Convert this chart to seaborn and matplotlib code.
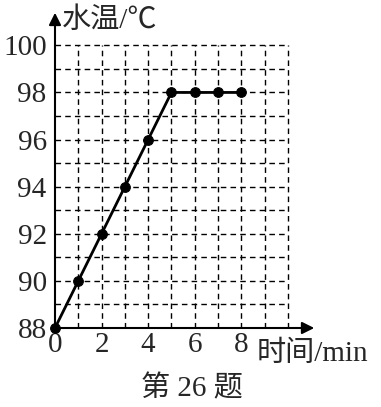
import matplotlib
matplotlib.use('Agg')
import matplotlib.pyplot as plt
import seaborn as sns
import pandas as pd

# data
time_min = [0, 1, 2, 3, 4, 5, 6, 7, 8]
water_temp = [88, 90, 92, 94, 96, 98, 98, 98, 98]
x_ticks = [0, 2, 4, 6, 8]
y_ticks = [88, 90, 92, 94, 96, 98, 100]

df = pd.DataFrame({'time': time_min, 'temp': water_temp})

sns.set_style('white')
fonts = ['Liberation Serif', 'Noto Sans CJK SC', 'DejaVu Sans']
plt.rcParams['font.family'] = fonts

W, H = 381, 407
fig = plt.figure(figsize=(W / 100, H / 100), dpi=100)
ax = fig.add_axes([55 / W, (H - 328) / H, (317 - 55) / W, (328 - 10) / H])
ax.set_xlim(0, 11.25)
ax.set_ylim(88, 101.5)

# dashed grid
dash = (0, (4, 3))
ax.vlines(range(1, 11), 88, 100, colors='black', linestyles=dash, linewidth=1)
ax.hlines(range(89, 101), 0, 10, colors='black', linestyles=dash, linewidth=1)

sns.lineplot(data=df, x='time', y='temp', ax=ax, color='black', linewidth=2,
             marker='o', markersize=7, markeredgecolor='black', clip_on=False, zorder=5)

# axes with arrows
for s in ax.spines.values():
    s.set_visible(False)
ax.annotate('', xy=(1, 0), xytext=(0, 0), xycoords='axes fraction',
            arrowprops=dict(arrowstyle='-|>', color='black', lw=1.5, mutation_scale=18))
ax.annotate('', xy=(0, 1), xytext=(0, 0), xycoords='axes fraction',
            arrowprops=dict(arrowstyle='-|>', color='black', lw=1.5, mutation_scale=18))

ax.set_xticks(x_ticks)
ax.set_yticks(y_ticks)
ax.tick_params(length=0, labelsize=21)
ax.tick_params(axis='x', pad=3)
ax.tick_params(axis='y', pad=6)
ax.set_xlabel('')
ax.set_ylabel('')

fig.text(62 / W, 1 - 21 / H, '水温/℃', fontsize=21, family=fonts, va='center', ha='left')
fig.text(257 / W, 1 - 354 / H, '时间/min', fontsize=21, family=fonts, va='center', ha='left')
fig.text(192 / W, 1 - 389 / H, '第 26 题', fontsize=21, family=fonts, va='center', ha='center')

fig.savefig('out.png', dpi=100)
